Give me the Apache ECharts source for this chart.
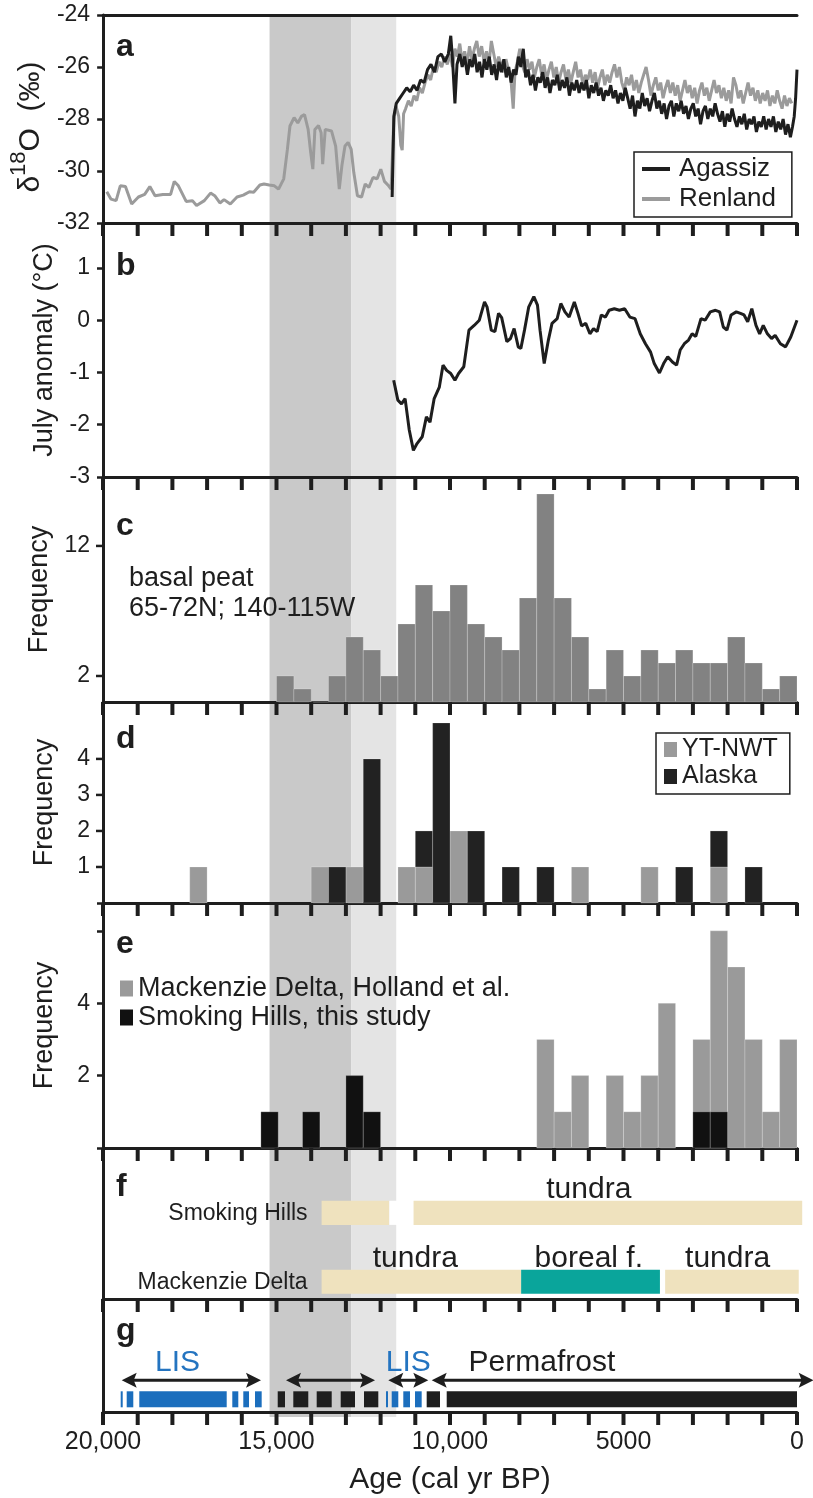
<!DOCTYPE html>
<html>
<head>
<meta charset="utf-8">
<script src="https://cdn.jsdelivr.net/npm/echarts@6/dist/echarts.min.js"></script>
<style>
html, body { margin: 0; padding: 0; background: #fff; }
#main { width: 813px; height: 1498px; }
</style>
</head>
<body>
<div id="main"></div>
<script>
var FONT = 'Liberation Sans, Arial, Helvetica, sans-serif';
var INK = '#1e1e1e';

// shared age axis
var ageMax = 20000;
var ageTickStep = 1000;
var ageTicks = [0, 1000, 2000, 3000, 4000, 5000, 6000, 7000, 8000, 9000, 10000,
  11000, 12000, 13000, 14000, 15000, 16000, 17000, 18000, 19000, 20000];
var ageLabelValues = [20000, 15000, 10000, 5000, 0];
var ageLabelTexts = ['20,000', '15,000', '10,000', '5000', '0'];
var shadeBands = [[15200, 12850, 'dark'], [12850, 11550, 'light']];

// a: d18O
var agassiz = [[11670,-31.0],[11620,-27.9],[11550,-27.4],[11450,-27.2],[11350,-27.0],[11250,-26.8],[11150,-26.95],
  [11050,-26.7],[10950,-26.9],[10850,-26.5],[10750,-26.6],[10650,-26.1],[10550,-25.9],[10450,-26.2],[10350,-25.6],
  [10250,-25.5],[10150,-25.8],[10050,-25.5],[9980,-24.8],[9930,-25.7],[9860,-27.4],[9800,-25.9],[9720,-25.5],
  [9650,-26.0],[9580,-25.6],[9500,-26.3],[9430,-25.7],[9360,-26.0],[9290,-25.5],[9220,-26.2],[9150,-25.8],
  [9080,-26.4],[9010,-25.7],[8940,-26.1],[8870,-25.6],[8800,-26.3],[8730,-25.9],[8660,-26.5],[8590,-25.8],
  [8520,-26.2],[8450,-25.7],[8380,-26.4],[8310,-26.0],[8240,-26.6],[8170,-26.1],[8100,-26.3],[8030,-25.6],
  [7960,-26.0],[7890,-25.3],[7820,-26.4],[7750,-26.1],[7680,-26.7],[7610,-26.3],[7540,-26.9],[7470,-26.4],
  [7400,-26.6],[7330,-26.2],[7260,-26.8],[7190,-26.4],[7120,-27.0],[7050,-26.5],[6980,-26.7],[6910,-26.3],
  [6840,-26.9],[6770,-26.5],[6700,-26.8],[6630,-26.4],[6560,-27.1],[6490,-26.6],[6420,-26.9],[6350,-26.5],
  [6280,-27.0],[6210,-26.6],[6140,-26.9],[6070,-26.5],[6000,-27.2],[5930,-26.7],[5860,-27.0],[5790,-26.6],
  [5720,-27.1],[5650,-26.8],[5580,-27.3],[5510,-26.9],[5440,-27.1],[5370,-26.7],[5300,-27.2],[5230,-26.9],
  [5160,-27.4],[5090,-27.0],[5020,-27.3],[4950,-26.8],[4880,-27.2],[4810,-27.6],[4740,-27.1],[4670,-27.9],
  [4600,-27.3],[4530,-27.6],[4460,-27.0],[4390,-27.5],[4320,-27.2],[4250,-27.7],[4180,-27.3],[4110,-27.0],
  [4040,-27.6],[3970,-27.3],[3900,-27.8],[3830,-27.4],[3760,-28.0],[3690,-27.5],[3620,-27.3],[3550,-27.9],
  [3480,-27.4],[3410,-27.7],[3340,-27.3],[3270,-27.8],[3200,-27.5],[3130,-28.0],[3060,-27.6],[2990,-27.4],
  [2920,-27.9],[2850,-27.6],[2780,-28.2],[2710,-27.7],[2640,-27.5],[2570,-28.0],[2500,-27.6],[2430,-27.9],
  [2360,-27.4],[2290,-27.8],[2220,-28.1],[2150,-27.7],[2080,-28.3],[2010,-27.8],[1940,-28.1],[1870,-27.6],
  [1800,-28.0],[1730,-28.3],[1660,-27.9],[1590,-28.2],[1520,-27.8],[1450,-28.4],[1380,-28.0],[1310,-28.2],
  [1240,-27.9],[1170,-28.5],[1100,-28.1],[1030,-28.3],[960,-27.9],[890,-28.4],[820,-28.0],[750,-28.3],
  [680,-27.9],[610,-28.5],[540,-28.1],[470,-28.4],[400,-28.0],[330,-28.6],[260,-28.2],[190,-28.7],
  [130,-28.3],[80,-27.9],[40,-27.2],[0,-26.1]];
var renland = [[19895,-30.8],[19776,-31.08],[19626,-31.14],[19506,-30.57],[19357,-30.6],[19177,-31.27],[18983,-31.0],
  [18803,-30.9],[18654,-30.6],[18504,-30.95],[18280,-30.9],[18055,-30.9],[17950,-30.4],[17831,-30.57],[17607,-31.17],
  [17427,-31.14],[17307,-31.33],[17083,-31.14],[16904,-30.85],[16784,-30.95],[16634,-31.23],[16515,-31.1],
  [16335,-31.27],[16141,-31.0],[15961,-30.93],[15782,-30.8],[15662,-30.82],[15482,-30.54],[15363,-30.5],
  [15213,-30.54],[15064,-30.57],[14944,-30.7],[14794,-30.3],[14689,-29.17],[14615,-28.27],[14495,-27.95],
  [14390,-28.15],[14286,-27.9],[14196,-27.83],[14091,-28.4],[14016,-29.3],[13956,-29.93],[13896,-28.4],
  [13792,-28.25],[13717,-28.53],[13672,-29.74],[13598,-28.4],[13418,-28.46],[13298,-29.04],[13194,-30.7],
  [13119,-29.8],[13029,-29.04],[12939,-28.9],[12850,-29.17],[12775,-30.06],[12670,-30.95],[12551,-31.0],
  [12446,-30.5],[12341,-30.63],[12221,-30.25],[12102,-30.3],[11997,-29.93],[11892,-30.4],[11772,-30.57],
  [11700,-30.7],[11620,-28.0],[11560,-27.5],[11480,-27.9],[11420,-29.0],[11380,-29.2],[11340,-27.8],
  [11280,-27.6],[11200,-27.3],[11120,-27.5],[11040,-27.1],[10960,-27.3],[10880,-26.8],[10800,-27.0],
  [10720,-26.6],[10640,-26.3],[10560,-26.5],[10480,-26.0],[10400,-26.2],[10320,-25.8],[10240,-26.0],
  [10160,-25.6],[10080,-25.9],[10000,-25.5],[9930,-26.0],[9860,-25.3],[9790,-25.6],[9720,-25.1],[9650,-25.8],
  [9580,-25.4],[9510,-25.9],[9440,-25.2],[9370,-25.7],[9300,-25.3],[9230,-25.0],[9160,-25.6],[9090,-25.2],
  [9020,-25.8],[8950,-25.4],[8880,-25.9],[8810,-25.0],[8740,-25.5],[8670,-26.0],[8600,-25.6],[8530,-25.9],
  [8460,-26.2],[8390,-25.7],[8320,-26.1],[8250,-26.4],[8180,-27.6],[8130,-26.2],[8060,-25.8],[7990,-25.3],
  [7920,-25.9],[7850,-26.2],[7780,-25.7],[7710,-26.1],[7640,-25.8],[7570,-26.4],[7500,-26.0],[7430,-25.7],
  [7360,-26.3],[7290,-25.9],[7220,-26.5],[7150,-26.1],[7080,-25.8],[7010,-26.4],[6940,-26.0],[6870,-26.6],
  [6800,-26.2],[6730,-25.9],[6660,-26.5],[6590,-26.1],[6520,-26.6],[6450,-26.2],[6380,-25.8],[6310,-26.4],
  [6240,-26.1],[6170,-26.7],[6100,-26.3],[6030,-26.5],[5960,-26.1],[5890,-26.6],[5820,-26.2],[5750,-26.8],
  [5680,-26.4],[5610,-26.1],[5540,-26.7],[5470,-26.3],[5400,-26.6],[5330,-26.2],[5260,-25.9],[5190,-26.4],
  [5120,-26.0],[5050,-26.6],[4980,-26.9],[4910,-26.4],[4840,-26.7],[4770,-26.3],[4700,-26.9],[4630,-26.5],
  [4560,-27.0],[4490,-26.6],[4420,-26.3],[4350,-26.0],[4280,-26.5],[4210,-27.1],[4140,-26.7],[4070,-26.4],
  [4000,-26.9],[3930,-26.6],[3860,-27.2],[3790,-26.8],[3720,-26.5],[3650,-27.0],[3580,-26.6],[3510,-27.1],
  [3440,-26.7],[3370,-27.3],[3300,-26.9],[3230,-26.5],[3160,-27.0],[3090,-26.7],[3020,-27.2],[2950,-26.8],
  [2880,-27.4],[2810,-26.9],[2740,-26.6],[2670,-27.1],[2600,-26.8],[2530,-27.3],[2460,-26.9],[2390,-26.5],
  [2320,-27.0],[2250,-26.7],[2180,-27.2],[2110,-26.8],[2040,-27.3],[1970,-26.9],[1900,-27.4],[1830,-26.4],
  [1760,-26.7],[1690,-27.2],[1620,-26.9],[1550,-27.4],[1480,-27.0],[1410,-26.6],[1340,-27.1],[1270,-26.8],
  [1200,-27.3],[1130,-26.9],[1060,-27.4],[990,-27.0],[920,-27.3],[850,-26.9],[780,-27.5],[710,-27.1],
  [640,-27.4],[570,-26.9],[500,-27.3],[430,-27.6],[360,-27.1],[290,-27.5],[220,-27.2],[150,-27.4]];

// b: July temperature anomaly
var julyAnomaly = [[11623,-1.15],[11503,-1.53],[11398,-1.6],[11294,-1.5],[11174,-2.1],[11055,-2.49],[10950,-2.36],
  [10800,-2.23],[10680,-1.85],[10576,-1.95],[10456,-1.5],[10307,-1.28],[10202,-0.86],[10097,-0.96],[9978,-1.02],
  [9858,-1.15],[9753,-1.02],[9603,-0.89],[9454,-0.19],[9304,-0.1],[9155,0],[9005,0.35],[8930,0.25],[8811,-0.19],
  [8706,-0.22],[8601,0.13],[8511,0.05],[8362,-0.41],[8257,-0.35],[8152,-0.16],[8033,-0.51],[7958,-0.54],
  [7853,-0.19],[7733,0.25],[7584,0.45],[7479,0.29],[7405,-0.19],[7285,-0.83],[7165,-0.38],[7060,-0.06],
  [6911,0.03],[6806,0.32],[6687,0.16],[6567,0.06],[6417,0.35],[6312,0.13],[6208,-0.11],[6088,-0.06],
  [5968,-0.26],[5864,-0.16],[5759,-0.22],[5639,0.1],[5520,0.06],[5415,0.19],[5265,0.22],[5116,0.19],
  [4966,0.22],[4817,0.06],[4667,0.03],[4518,-0.26],[4368,-0.45],[4219,-0.61],[4114,-0.83],[3964,-1.01],
  [3844,-0.83],[3725,-0.7],[3590,-0.8],[3470,-0.86],[3366,-0.57],[3246,-0.45],[3126,-0.38],[3022,-0.26],
  [2917,-0.31],[2767,0.03],[2648,0],[2498,0.16],[2348,0.19],[2229,0.16],[2124,-0.13],[2019,-0.19],
  [1900,0.1],[1750,0.16],[1630,0.13],[1526,0.1],[1421,-0.03],[1302,0.22],[1182,-0.1],[1077,-0.26],
  [973,-0.1],[853,-0.26],[733,-0.35],[629,-0.29],[479,-0.45],[329,-0.51],[180,-0.32],[0,0]];

// c: basal peat dates, 500-yr bins (older edge)
var binWidth = 500;
var peatBinStart = [15000,14500,14000,13500,13000,12500,12000,11500,11000,10500,10000,9500,9000,8500,8000,
  7500,7000,6500,6000,5500,5000,4500,4000,3500,3000,2500,2000,1500,1000,500];
var peatCount = [2,1,0,2,5,4,2,6,9,7,9,6,5,4,8,16,8,5,1,4,2,4,3,4,3,3,5,3,1,2];
var peatTicks = [2, 12];

// d: YT-NWT and Alaska (bin older edge, count)
var ytNwt = [[17500,1],[14000,1],[13000,1],[11500,1],[11000,1],[10000,2],[6500,1],[4500,1],[2500,1]];
var alaska = [[13500,1],[12500,4],[11000,1],[10500,5],[9500,2],[8500,1],[7500,1],[3500,1],[2500,1],[1500,1]];
var regionTicks = [1, 2, 3, 4];

// e: Mackenzie Delta and Smoking Hills (older edge, younger edge, count)
var mackenzieDates = [[7500,7000,3],[7000,6500,1],[6500,6000,2],[5500,5000,2],[5000,4500,1],[4500,4000,2],
  [4000,3500,4],[3000,2500,3],[2500,2000,6],[2000,1500,5],[1500,1000,3],[1000,500,1],[500,0,3]];
var smokingDates = [[15450,14950,1],[14250,13750,1],[13000,12500,2],[12500,12000,1],[3000,2500,1],[2500,2000,1]];
var siteLabels = [2, 4];

// f: vegetation (row, older, younger, kind)
var vegRows = ['Mackenzie Delta', 'Smoking Hills'];
var vegSegments = [[1,13700,11750,'tundra'],[1,11750,11050,'gap'],[1,11050,-150,'tundra'],
  [0,13700,7950,'tundra'],[0,7950,3950,'boreal'],[0,3800,-50,'tundra']];
var vegLabels = [['tundra',6000,1],['tundra',11000,0],['boreal f.',6000,0],['tundra',2000,0]];

// g: LIS and permafrost
var lisSegments = [[19490,19432],[19317,19127],[18954,16435],[16274,16101],[15957,15793],[15620,15427],
  [11844,11787],[11680,11490],[11346,11153],[11009,10816]];
var permSegments = [[14965,14755],[14516,14084],[13842,13409],[13150,12738],[12478,12066],[10672,10288],[10095,0]];
var gArrows = [[19461,15447],[14726,12161],[11778,10625],[10527,-480]];
var gLabels = [['LIS',17850,'ice'],['LIS',11200,'ice'],['Permafrost',7350,'perm']];

var panelLetters = [['a',47],['b',266],['c',526],['d',739],['e',944],['f',1187],['g',1331]];

var chart = echarts.init(document.getElementById('main'), null, {renderer: 'canvas'});

var panels = [
  {top: 15, height: 208}, {top: 223, height: 254}, {top: 477, height: 225}, {top: 702, height: 201},
  {top: 903, height: 245}, {top: 1148, height: 151}, {top: 1299, height: 113}
];
var grids = panels.map(function (p) { return {left: 103, right: 16, top: p.top, height: p.height}; });
grids.push({left: 103, right: 16, top: 15, height: 1399});

function ageAxis(gi, extra) {
  var ax = {
    type: 'value', gridIndex: gi, min: 0, max: ageMax, interval: ageTickStep, inverse: true,
    axisLine: {show: true, onZero: false, lineStyle: {color: INK, width: 3}},
    axisTick: {show: false},
    axisLabel: {show: false},
    splitLine: {show: false}
  };
  return Object.assign(ax, extra || {});
}

function valAxis(gi, min, max, interval, labelFn, showTick, name, gap, nameStyle) {
  return {
    type: 'value', gridIndex: gi, min: min, max: max, interval: interval,
    axisLine: {show: true, onZero: false, lineStyle: {color: INK, width: 3}},
    axisTick: {show: showTick, length: 6, lineStyle: {color: INK, width: 2.5}},
    axisLabel: {show: !!labelFn, margin: 13, fontSize: 23, fontFamily: FONT, color: INK, formatter: labelFn},
    splitLine: {show: false},
    name: name, nameLocation: 'middle', nameGap: gap, nameRotate: 90,
    nameTextStyle: nameStyle || {fontSize: 27, fontFamily: FONT, color: INK}
  };
}

function intLabel(v) { return Math.abs(v - Math.round(v)) < 1e-6 ? String(v) : ''; }
function pick(list) { return function (v) { return list.indexOf(v) >= 0 ? String(v) : ''; }; }

var xAxes = [];
for (var i = 0; i < 7; i++) xAxes.push(ageAxis(i));
xAxes[6] = ageAxis(6, {
  axisLabel: {show: true, margin: 18, fontSize: 25, fontFamily: FONT, color: INK,
    formatter: function (v) { var k = ageLabelValues.indexOf(v); return k >= 0 ? ageLabelTexts[k] : ''; }},
  name: 'Age (cal yr BP)', nameLocation: 'middle', nameGap: 53,
  nameTextStyle: {fontSize: 30, fontFamily: FONT, color: INK}
});
xAxes.push(ageAxis(0, {position: 'top'}));
xAxes.push({type: 'value', gridIndex: 7, min: 0, max: ageMax, inverse: true, show: false});

var yAxes = [
  valAxis(0, -32, -24, 2, intLabel, true, '{n|δ}{s|18}{n|O  (‰)}', 47,
    {fontFamily: FONT, color: INK, padding: [0, 16, 0, 0], rich: {
      n: {fontSize: 30, lineHeight: 46, fontFamily: FONT, color: INK},
      s: {fontSize: 22, lineHeight: 22, verticalAlign: 'top', fontFamily: FONT, color: INK}}}),
  valAxis(1, -3, 1.86, 1, intLabel, true, 'July anomaly (°C)', 45),
  valAxis(2, 0, 17.3, 2, pick(peatTicks), false, 'Frequency', 45),
  valAxis(3, 0, 5.58, 1, pick(regionTicks), false, 'Frequency', 45),
  valAxis(4, 0, 6.77, 2, pick(siteLabels), true, 'Frequency', 45),
  valAxis(5, -0.25, 1.94, 1, null, false, '', 0),
  valAxis(6, 0, 8.9, 1, null, false, '', 0),
  {type: 'value', gridIndex: 7, min: 0, max: 1, show: false}
];

function histItem(params, api) {
  var p0 = api.coord([api.value(0), api.value(2)]);
  var p1 = api.coord([api.value(1), api.value(3)]);
  return {type: 'rect', shape: {x: p0[0], y: p1[1], width: p1[0] - p0[0], height: p0[1] - p1[1]},
    style: api.style({stroke: 'rgba(255,255,255,0.35)', lineWidth: 0.6})};
}

// pixel row of a value on one panel's y scale
function panelY(pi, v) {
  var ax = yAxes[pi], p = panels[pi];
  return p.top + p.height * (ax.max - v) / (ax.max - ax.min);
}

// tick marks for all panels, x placed with the shared age scale
function tickMarks(api) {
  var marks = [];
  panels.forEach(function (p) {
    var yb = p.top + p.height;
    ageTicks.forEach(function (v) {
      var x = api.coord([v, 0])[0];
      marks.push({type: 'rect', shape: {x: x - 2, y: yb, width: 4, height: 13}, style: {fill: INK}});
    });
  });
  var x0 = api.coord([ageMax, 0])[0];
  [[2, peatTicks], [3, regionTicks]].forEach(function (t) {
    t[1].forEach(function (v) {
      marks.push({type: 'rect', shape: {x: x0 - 7, y: panelY(t[0], v) - 1.25, width: 7, height: 2.5}, style: {fill: INK}});
    });
  });
  return marks;
}

var peatData = peatBinStart.map(function (s, k) { return [s, s - binWidth, 0, peatCount[k]]; });
var ytData = ytNwt.map(function (d) { return [d[0], d[0] - binWidth, 0, d[1]]; });
var alaskaData = alaska.map(function (d) {
  var base = 0;
  ytNwt.forEach(function (y) { if (y[0] === d[0]) base = y[1]; });
  return [d[0], d[0] - binWidth, base, base + d[1]];
});
var mackData = mackenzieDates.map(function (d) { return [d[0], d[1], 0, d[2]]; });
var smokData = smokingDates.map(function (d) { return [d[0], d[1], 0, d[2]]; });

var shadeColors = {dark: '#c9c9c9', light: '#e4e4e4'};
var vegColors = {tundra: '#efe2be', boreal: '#0aa59b', gap: '#ffffff'};

var series = [
  {
    type: 'custom', name: 'bands', xAxisIndex: 8, yAxisIndex: 7, z: -5, silent: true,
    data: shadeBands.map(function (b) { return [b[0], b[1]]; }),
    renderItem: function (params, api) {
      var p0 = api.coord([api.value(0), 1]);
      var p1 = api.coord([api.value(1), 0]);
      return {type: 'rect', shape: {x: p0[0], y: p0[1], width: p1[0] - p0[0], height: p1[1] - p0[1] + 3},
        style: {fill: shadeColors[shadeBands[params.dataIndex][2]]}};
    }
  },
  {
    type: 'custom', name: 'ticks', xAxisIndex: 8, yAxisIndex: 7, z: 8, silent: true,
    data: [[0, 0]],
    renderItem: function (params, api) {
      return {type: 'group', children: tickMarks(api)};
    }
  },
  {type: 'line', name: 'Renland', xAxisIndex: 0, yAxisIndex: 0, data: renland, showSymbol: false,
    lineStyle: {color: '#9b9b9b', width: 3}, itemStyle: {color: '#9b9b9b'}},
  {type: 'line', name: 'Agassiz', xAxisIndex: 0, yAxisIndex: 0, data: agassiz, showSymbol: false,
    lineStyle: {color: INK, width: 3}, itemStyle: {color: INK}},
  {type: 'line', name: 'July', xAxisIndex: 1, yAxisIndex: 1, data: julyAnomaly, showSymbol: false,
    lineStyle: {color: INK, width: 3}},
  {type: 'custom', name: 'basal peat', xAxisIndex: 2, yAxisIndex: 2, data: peatData, renderItem: histItem,
    itemStyle: {color: '#828282'}},
  {type: 'custom', name: 'YT-NWT', xAxisIndex: 3, yAxisIndex: 3, data: ytData, renderItem: histItem,
    itemStyle: {color: '#9a9a9a'}},
  {type: 'custom', name: 'Alaska', xAxisIndex: 3, yAxisIndex: 3, data: alaskaData, renderItem: histItem,
    itemStyle: {color: '#222222'}},
  {type: 'custom', name: 'Mackenzie Delta, Holland et al.', xAxisIndex: 4, yAxisIndex: 4, data: mackData,
    renderItem: histItem, itemStyle: {color: '#9a9a9a'}},
  {type: 'custom', name: 'Smoking Hills, this study', xAxisIndex: 4, yAxisIndex: 4, data: smokData,
    renderItem: histItem, itemStyle: {color: '#111111'}},
  {
    type: 'custom', name: 'vegetation', xAxisIndex: 5, yAxisIndex: 5,
    data: vegSegments.map(function (s) { return [s[1], s[2], s[0]]; }),
    renderItem: function (params, api) {
      var seg = vegSegments[params.dataIndex];
      var p0 = api.coord([seg[1], seg[0]]);
      var p1 = api.coord([seg[2], seg[0]]);
      var h = api.size([0, 0.35])[1];
      var children = [{type: 'rect', shape: {x: p0[0], y: p0[1] - h / 2, width: p1[0] - p0[0], height: h},
        style: {fill: vegColors[seg[3]]}}];
      var first = vegSegments.findIndex(function (v) { return v[0] === seg[0]; });
      if (first === params.dataIndex) {
        children.push({type: 'text', x: p0[0] - 14, y: p0[1] + 1,
          style: {text: vegRows[seg[0]], fontSize: 23, fontFamily: FONT, fill: INK, align: 'right', verticalAlign: 'middle'}});
      }
      return {type: 'group', children: children};
    }
  },
  {
    type: 'custom', name: 'vegLabels', xAxisIndex: 5, yAxisIndex: 5,
    data: vegLabels.map(function (l) { return [l[1], l[2]]; }),
    renderItem: function (params, api) {
      var p = api.coord([api.value(0), api.value(1)]);
      var h = api.size([0, 0.35])[1];
      return {type: 'text', x: p[0], y: p[1] - h / 2 + 4,
        style: {text: vegLabels[params.dataIndex][0], fontSize: 30, fontFamily: FONT, fill: INK,
          align: 'center', verticalAlign: 'bottom'}};
    }
  },
  {
    type: 'custom', name: 'LIS', xAxisIndex: 6, yAxisIndex: 6, data: lisSegments,
    renderItem: function (params, api) {
      var p0 = api.coord([api.value(0), 1]);
      var p1 = api.coord([api.value(1), 1]);
      var h = api.size([0, 1.26])[1];
      return {type: 'rect', shape: {x: p0[0], y: p0[1] - h / 2, width: p1[0] - p0[0], height: h}, style: {fill: '#1b6ebd'}};
    }
  },
  {
    type: 'custom', name: 'Permafrost', xAxisIndex: 6, yAxisIndex: 6, data: permSegments,
    renderItem: function (params, api) {
      var p0 = api.coord([api.value(0), 1]);
      var p1 = api.coord([api.value(1), 1]);
      var h = api.size([0, 1.26])[1];
      return {type: 'rect', shape: {x: p0[0], y: p0[1] - h / 2, width: p1[0] - p0[0], height: h}, style: {fill: INK}};
    }
  },
  {
    type: 'custom', name: 'arrows', xAxisIndex: 6, yAxisIndex: 6, data: gArrows,
    renderItem: function (params, api) {
      var a = api.coord([api.value(0), 2.5]);
      var b = api.coord([api.value(1), 2.5]);
      var hl = 15, hw = 7.5, y = a[1];
      return {type: 'group', children: [
        {type: 'line', shape: {x1: a[0] + 8, y1: y, x2: b[0] - 8, y2: y}, style: {stroke: INK, lineWidth: 3}},
        {type: 'polygon', shape: {points: [[a[0], y], [a[0] + hl, y - hw], [a[0] + hl * 0.8, y], [a[0] + hl, y + hw]]}, style: {fill: INK}},
        {type: 'polygon', shape: {points: [[b[0], y], [b[0] - hl, y - hw], [b[0] - hl * 0.8, y], [b[0] - hl, y + hw]]}, style: {fill: INK}}
      ]};
    }
  },
  {
    type: 'custom', name: 'gLabels', xAxisIndex: 6, yAxisIndex: 6,
    data: gLabels.map(function (l) { return [l[1], 3.9]; }),
    renderItem: function (params, api) {
      var p = api.coord([api.value(0), api.value(1)]);
      var l = gLabels[params.dataIndex];
      return {type: 'text', x: p[0], y: p[1],
        style: {text: l[0], fontSize: 30, fontFamily: FONT, fill: l[2] === 'ice' ? '#2474c0' : INK,
          align: 'center', verticalAlign: 'middle'}};
    }
  }
];

var graphics = panelLetters.map(function (p) {
  return {type: 'text', x: 116, y: p[1], z: 10,
    style: {text: p[0], font: 'bold 32px ' + FONT, fill: INK, verticalAlign: 'middle'}};
}).concat([
  {type: 'text', x: 129, y: 579, z: 10, style: {text: 'basal peat', fontSize: 27, fontFamily: FONT, fill: INK, verticalAlign: 'middle'}},
  {type: 'text', x: 129, y: 609, z: 10, style: {text: '65-72N; 140-115W', fontSize: 27, fontFamily: FONT, fill: INK, verticalAlign: 'middle'}}
]);

var option = {
  animation: false,
  backgroundColor: '#ffffff',
  grid: grids,
  xAxis: xAxes,
  yAxis: yAxes,
  legend: [
    {data: ['Agassiz', 'Renland'], orient: 'vertical', left: 634, top: 152, icon: 'rect',
      itemWidth: 28, itemHeight: 4, itemGap: 4, padding: [4, 16, 5, 8], borderColor: INK, borderWidth: 1.5,
      backgroundColor: '#fff', selectedMode: false,
      textStyle: {fontSize: 26, fontFamily: FONT, color: INK, padding: [0, 0, 0, 4]}},
    {data: ['YT-NWT', 'Alaska'], orient: 'vertical', left: 656, top: 733, icon: 'rect',
      itemWidth: 13, itemHeight: 15, itemGap: 2, padding: [4, 12, 5, 8], borderColor: INK, borderWidth: 1.5,
      backgroundColor: '#fff', selectedMode: false, textStyle: {fontSize: 25, fontFamily: FONT, color: INK}},
    {data: ['Mackenzie Delta, Holland et al.', 'Smoking Hills, this study'], orient: 'vertical', left: 120, top: 975,
      icon: 'rect', itemWidth: 13, itemHeight: 16, itemGap: 2, padding: 0, selectedMode: false,
      textStyle: {fontSize: 27, fontFamily: FONT, color: INK}}
  ],
  graphic: graphics,
  series: series
};
chart.setOption(option);
</script>
</body>
</html>
